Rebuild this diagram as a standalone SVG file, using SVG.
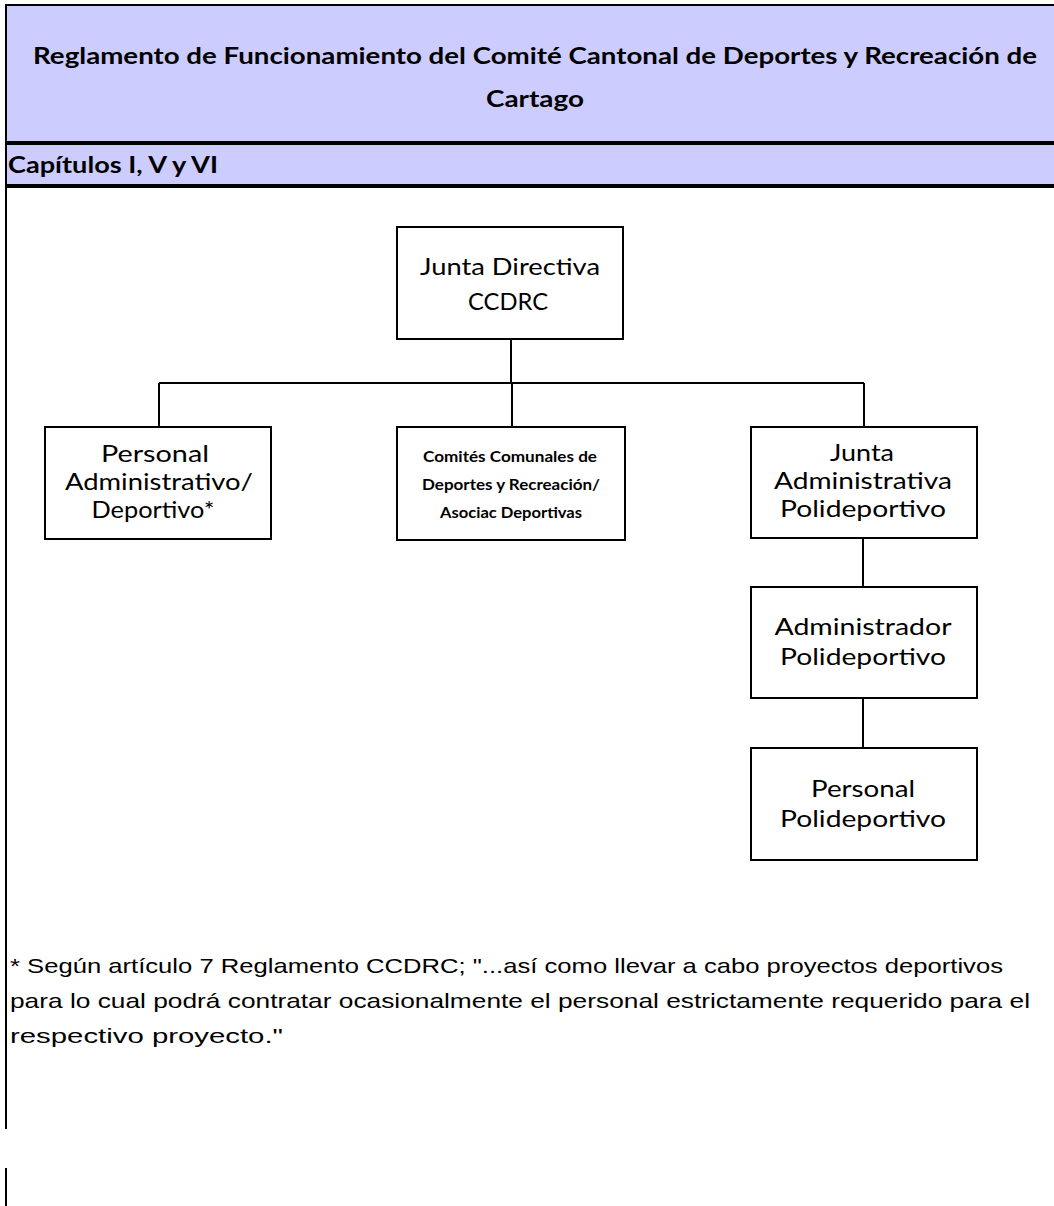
<svg xmlns="http://www.w3.org/2000/svg" width="1054" height="1206" viewBox="0 0 1054 1206">
<style>
.box{fill:#fff;stroke:#000;stroke-width:2}
.conn{stroke:#000;stroke-width:2;fill:none}
.t{font-family:Lato,"Open Sans",sans-serif;font-size:24px;fill:#000;text-anchor:middle}
.tb{font-family:Lato,"Open Sans",sans-serif;font-size:15px;font-weight:bold;fill:#000;text-anchor:middle}
.h{font-family:Lato,"Open Sans",sans-serif;font-size:22px;font-weight:bold;fill:#000}
.f{font-family:"Liberation Sans",Arial,sans-serif;font-size:21px;fill:#000}
</style>
<rect x="0" y="0" width="1054" height="1206" fill="#fff"/>
<g id="header">
<rect x="6" y="5" width="1048" height="138" fill="#ccccff"/>
<rect x="6" y="145" width="1048" height="40" fill="#ccccff"/>
<line x1="5" y1="5" x2="1054" y2="5" stroke="#000" stroke-width="2"/>
<rect x="5" y="141" width="1049" height="4" fill="#000"/>
<rect x="5" y="184" width="1049" height="4" fill="#000"/>
<text class="h" x="535" y="64" text-anchor="middle" textLength="1004" lengthAdjust="spacingAndGlyphs">Reglamento de Funcionamiento del Comité Cantonal de Deportes y Recreación de</text>
<text class="h" x="535" y="107" text-anchor="middle" textLength="98" lengthAdjust="spacingAndGlyphs">Cartago</text>
<text class="h" x="8" y="173" textLength="210" lengthAdjust="spacingAndGlyphs">Capítulos I, V y VI</text>
</g>
<g id="frame">
<line x1="6" y1="5" x2="6" y2="1129" stroke="#000" stroke-width="2"/>
<line x1="6" y1="1168" x2="6" y2="1206" stroke="#000" stroke-width="2"/>
</g>
<g id="connectors">
<path class="conn" d="M511 339 V383"/>
<path class="conn" d="M159 383 H864"/>
<path class="conn" d="M159 383 V427"/>
<path class="conn" d="M512 383 V427"/>
<path class="conn" d="M864 383 V427"/>
<path class="conn" d="M863 538 V587"/>
<path class="conn" d="M863 698 V748"/>
</g>
<g id="junta-directiva">
<rect class="box" x="397" y="227" width="226" height="112"/>
<text class="t" x="510" y="275" textLength="180" lengthAdjust="spacingAndGlyphs">Junta Directiva</text>
<text class="t" x="508" y="310" textLength="80" lengthAdjust="spacingAndGlyphs">CCDRC</text>
</g>
<g id="personal-administrativo">
<rect class="box" x="45" y="427" width="226" height="112"/>
<text class="t" x="155" y="462" textLength="108" lengthAdjust="spacingAndGlyphs">Personal</text>
<text class="t" x="159" y="490" textLength="188" lengthAdjust="spacingAndGlyphs">Administrativo/</text>
<text class="t" x="153" y="518" textLength="123" lengthAdjust="spacingAndGlyphs">Deportivo*</text>
</g>
<g id="comites-comunales">
<rect class="box" x="397" y="427" width="228" height="113"/>
<text class="tb" x="510" y="462" textLength="174" lengthAdjust="spacingAndGlyphs">Comités Comunales de</text>
<text class="tb" x="511" y="490" textLength="178" lengthAdjust="spacingAndGlyphs">Deportes y Recreación/</text>
<text class="tb" x="511" y="518" textLength="142" lengthAdjust="spacingAndGlyphs">Asociac Deportivas</text>
</g>
<g id="junta-administrativa">
<rect class="box" x="751" y="427" width="226" height="111"/>
<text class="t" x="862" y="461" textLength="64" lengthAdjust="spacingAndGlyphs">Junta</text>
<text class="t" x="863" y="489" textLength="178" lengthAdjust="spacingAndGlyphs">Administrativa</text>
<text class="t" x="863" y="517" textLength="166" lengthAdjust="spacingAndGlyphs">Polideportivo</text>
</g>
<g id="administrador">
<rect class="box" x="751" y="587" width="226" height="111"/>
<text class="t" x="863" y="635" textLength="177" lengthAdjust="spacingAndGlyphs">Administrador</text>
<text class="t" x="863" y="665" textLength="166" lengthAdjust="spacingAndGlyphs">Polideportivo</text>
</g>
<g id="personal-polideportivo">
<rect class="box" x="751" y="748" width="226" height="112"/>
<text class="t" x="863" y="797" textLength="104" lengthAdjust="spacingAndGlyphs">Personal</text>
<text class="t" x="863" y="827" textLength="166" lengthAdjust="spacingAndGlyphs">Polideportivo</text>
</g>
<g id="footnote">
<text class="f" x="10" y="973" textLength="993" lengthAdjust="spacingAndGlyphs">* Según artículo 7 Reglamento CCDRC; "...así como llevar a cabo proyectos deportivos</text>
<text class="f" x="10" y="1008" textLength="1020" lengthAdjust="spacingAndGlyphs">para lo cual podrá contratar ocasionalmente el personal estrictamente requerido para el</text>
<text class="f" x="10" y="1043" textLength="273" lengthAdjust="spacingAndGlyphs">respectivo proyecto."</text>
</g>
</svg>
